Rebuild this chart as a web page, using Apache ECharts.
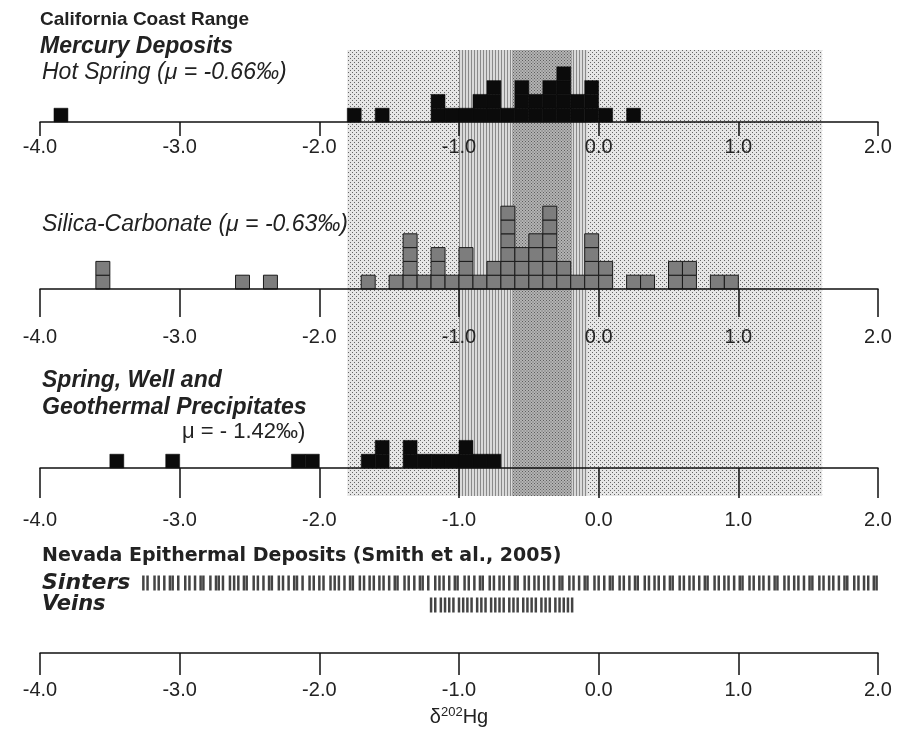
<!DOCTYPE html>
<html>
<head>
<meta charset="utf-8">
<script src="https://cdn.jsdelivr.net/npm/echarts@6/dist/echarts.min.js"></script>
<style>html,body{margin:0;padding:0;background:#fff}#main{width:898px;height:743px}</style>
</head>
<body>
<div id="main"></div>
<script>
// histogram bins are 0.1 wide, each value is the left edge of a bin
var hotSpringBins   = [-3.9, -1.8, -1.6, -1.2, -1.1, -1.0, -0.9, -0.8, -0.7, -0.6, -0.5, -0.4, -0.3, -0.2, -0.1, 0.0, 0.2];
var hotSpringCounts = [1, 1, 1, 2, 1, 1, 2, 3, 1, 3, 2, 3, 4, 2, 3, 1, 1];

var silicaBins   = [-3.6, -2.6, -2.4, -1.7, -1.5, -1.4, -1.3, -1.2, -1.1, -1.0, -0.9, -0.8, -0.7, -0.6, -0.5, -0.4, -0.3, -0.2, -0.1, 0.0, 0.2, 0.3, 0.5, 0.6, 0.8, 0.9];
var silicaCounts = [2, 1, 1, 1, 1, 4, 1, 3, 1, 3, 1, 2, 6, 3, 4, 6, 2, 1, 4, 2, 1, 1, 2, 2, 1, 1];

var springBins   = [-3.5, -3.1, -2.2, -2.1, -1.7, -1.6, -1.4, -1.3, -1.2, -1.1, -1.0, -0.9, -0.8];
var springCounts = [1, 1, 1, 1, 1, 2, 2, 1, 1, 1, 2, 1, 1];

// Nevada epithermal deposits (Smith et al., 2005), individual values
var sinters = [-3.26, -3.23, -3.18, -3.15, -3.11, -3.07, -3.05, -3.01, -2.96, -2.93, -2.89, -2.85, -2.83, -2.78, -2.74, -2.72, -2.69, -2.64, -2.61, -2.58, -2.54, -2.52, -2.47, -2.44, -2.40, -2.36, -2.34, -2.29, -2.26, -2.22, -2.18, -2.16, -2.12, -2.07, -2.04, -2.00, -1.97, -1.92, -1.89, -1.86, -1.82, -1.78, -1.76, -1.71, -1.68, -1.64, -1.61, -1.57, -1.54, -1.50, -1.46, -1.44, -1.39, -1.36, -1.32, -1.28, -1.26, -1.22, -1.17, -1.14, -1.11, -1.07, -1.03, -1.01, -0.96, -0.93, -0.89, -0.85, -0.83, -0.78, -0.75, -0.71, -0.68, -0.64, -0.60, -0.58, -0.53, -0.50, -0.46, -0.43, -0.39, -0.36, -0.32, -0.28, -0.26, -0.21, -0.18, -0.14, -0.10, -0.08, -0.03, 0.00, 0.04, 0.08, 0.10, 0.15, 0.18, 0.22, 0.26, 0.28, 0.33, 0.36, 0.40, 0.43, 0.47, 0.51, 0.53, 0.58, 0.61, 0.65, 0.68, 0.72, 0.76, 0.78, 0.83, 0.86, 0.90, 0.93, 0.97, 1.01, 1.03, 1.08, 1.11, 1.15, 1.18, 1.22, 1.26, 1.28, 1.33, 1.36, 1.40, 1.43, 1.47, 1.51, 1.53, 1.58, 1.61, 1.65, 1.68, 1.72, 1.76, 1.78, 1.83, 1.86, 1.90, 1.93, 1.97, 1.99];
var veins = [-1.20, -1.17, -1.13, -1.10, -1.07, -1.04, -1.00, -0.97, -0.94, -0.91, -0.87, -0.84, -0.81, -0.77, -0.74, -0.71, -0.68, -0.64, -0.61, -0.58, -0.54, -0.51, -0.48, -0.45, -0.41, -0.38, -0.35, -0.31, -0.28, -0.25, -0.22, -0.19];

// shaded ranges across the upper three panels
var bandLight = [-1.8, 1.6];
var bandMid   = [-1.0, -0.08];
var bandDark  = [-0.62, -0.19];

var xMin = -4, xMax = 2;

function makePattern(bg, fg, size, kind) {
  var c = document.createElement('canvas');
  c.width = size; c.height = size;
  var ctx = c.getContext('2d');
  ctx.fillStyle = bg; ctx.fillRect(0, 0, size, size);
  ctx.fillStyle = fg;
  if (kind === 'lines') {
    ctx.fillRect(0, 0, 1, size);
  } else {
    ctx.fillRect(0, 0, 1, 1);
    ctx.fillRect(size / 2, size / 2, 1, 1);
  }
  return { image: c, repeat: 'repeat' };
}

var U = 13.8; // pixels per count
var font = 'Liberation Sans, Arial, sans-serif';
var vfont = 'DejaVu Sans, Verdana, sans-serif';

function squares(bins, counts, idx, fill, stroke, lw) {
  var data = [];
  bins.forEach(function (b, i) {
    for (var k = 0; k < counts[i]; k++) data.push([b, k]);
  });
  return {
    type: 'custom', xAxisIndex: idx, yAxisIndex: idx, z: 5,
    data: data, encode: { x: 0, y: 1 },
    renderItem: function (params, api) {
      var x0 = api.value(0), k = api.value(1);
      var p0 = api.coord([x0, k]), p1 = api.coord([x0 + 0.1, k + 1]);
      return {
        type: 'rect',
        shape: { x: p0[0], y: p1[1], width: p1[0] - p0[0], height: p0[1] - p1[1] },
        style: { fill: fill, stroke: stroke, lineWidth: lw }
      };
    }
  };
}

function axisX(idx, tickLen, margin, show) {
  return {
    gridIndex: idx, type: 'value', min: xMin, max: xMax, interval: 1, show: show, z: 6,
    axisLine: { show: true, onZero: false, lineStyle: { color: '#111', width: 1.5 } },
    axisTick: { show: true, length: tickLen, lineStyle: { color: '#111', width: 1.5 } },
    axisLabel: { margin: margin, color: '#222', fontFamily: font, fontSize: 20, formatter: function (v) { return v.toFixed(1); } },
    splitLine: { show: false }
  };
}
function axisY(idx, max) {
  return { gridIndex: idx, type: 'value', min: 0, max: max, show: false };
}

var chart = echarts.init(document.getElementById('main'));
var grids = [
  { left: 40, right: 20, top: 50, height: 446 },
  { left: 40, right: 20, top: 122 - 5 * U, height: 5 * U },
  { left: 40, right: 20, top: 289 - 6 * U, height: 6 * U },
  { left: 40, right: 20, top: 468 - 3 * U, height: 3 * U },
  { left: 40, right: 20, top: 572, height: 44 }
];

var xAxes = [axisX(0, 0, 0, false), axisX(1, 14, 15, true), axisX(2, 28, 38, true), axisX(3, 30, 42, true), axisX(4, 22, 27, true)];
xAxes[4].offset = 37;
xAxes[4].name = '{d|δ}{s|202}{d|Hg}';
xAxes[4].nameLocation = 'middle';
xAxes[4].nameGap = 53;
xAxes[4].nameTextStyle = { rich: { d: { fontSize: 20, fontFamily: font, color: '#222' }, s: { fontSize: 13, fontFamily: font, color: '#222', verticalAlign: 'top', padding: [0, 0, 9, 0] } } };

var yAxes = [axisY(0, 1), axisY(1, 5), axisY(2, 6), axisY(3, 3),
  { gridIndex: 4, type: 'category', data: ['Veins', 'Sinters'], show: false }];

var bands = [
  { r: bandLight, fill: makePattern('#e6e6e6', '#666666', 4, 'dots') },
  { r: bandMid, fill: makePattern('#dadada', '#8a8a8a', 3, 'lines') },
  { r: bandDark, fill: makePattern('#b4b4b4', '#5e5e5e', 3, 'dots') }
];

chart.setOption({
  animation: false,
  grid: grids,
  xAxis: xAxes,
  yAxis: yAxes,
  graphic: [
    { type: 'text', left: 40, top: 10, style: { text: 'California Coast Range', font: 'bold 19px ' + font, fill: '#222' } },
    { type: 'text', left: 40, top: 35, style: { text: 'Mercury Deposits', font: 'italic bold 23px ' + font, fill: '#222' } },
    { type: 'text', left: 42, top: 61, style: { text: 'Hot Spring (μ = -0.66‰)', font: 'italic 23px ' + font, fill: '#222' } },
    { type: 'text', left: 42, top: 213, style: { text: 'Silica-Carbonate (μ = -0.63‰)', font: 'italic 23px ' + font, fill: '#222' } },
    { type: 'text', left: 42, top: 369, style: { text: 'Spring, Well and', font: 'italic bold 23px ' + font, fill: '#222' } },
    { type: 'text', left: 42, top: 396, style: { text: 'Geothermal Precipitates', font: 'italic bold 23px ' + font, fill: '#222' } },
    { type: 'text', left: 182, top: 421, style: { text: 'μ = - 1.42‰)', font: '22px ' + font, fill: '#222' } },
    { type: 'text', left: 42, top: 547, style: { text: 'Nevada Epithermal Deposits (Smith et al., 2005)', font: 'bold 19px ' + vfont, fill: '#222' } },
    { type: 'text', left: 42, top: 572, style: { text: 'Sinters', font: 'italic bold 22px ' + vfont, fill: '#222' } },
    { type: 'text', left: 42, top: 594, style: { text: 'Veins', font: 'italic bold 21px ' + vfont, fill: '#222' } }
  ],
  series: [
    {
      type: 'custom', xAxisIndex: 0, yAxisIndex: 0, z: 1,
      data: bands.map(function (b, i) { return [b.r[0], b.r[1], i]; }),
      renderItem: function (params, api) {
        var b = bands[api.value(2)];
        var p0 = api.coord([api.value(0), 1]), p1 = api.coord([api.value(1), 0]);
        return { type: 'rect', shape: { x: p0[0], y: p0[1], width: p1[0] - p0[0], height: p1[1] - p0[1] }, style: { fill: b.fill } };
      }
    },
    squares(hotSpringBins, hotSpringCounts, 1, '#0b0b0b', '#0b0b0b', 0.5),
    squares(silicaBins, silicaCounts, 2, '#7d7d7d', '#1a1a1a', 1),
    squares(springBins, springCounts, 3, '#0b0b0b', '#0b0b0b', 0.5),
    {
      type: 'scatter', xAxisIndex: 4, yAxisIndex: 4, symbol: 'rect', symbolSize: [2.5, 15],
      itemStyle: { color: '#151515' },
      data: sinters.map(function (v) { return [v, 'Sinters']; })
    },
    {
      type: 'scatter', xAxisIndex: 4, yAxisIndex: 4, symbol: 'rect', symbolSize: [2.5, 15],
      itemStyle: { color: '#151515' },
      data: veins.map(function (v) { return [v, 'Veins']; })
    }
  ]
});
</script>
</body>
</html>
